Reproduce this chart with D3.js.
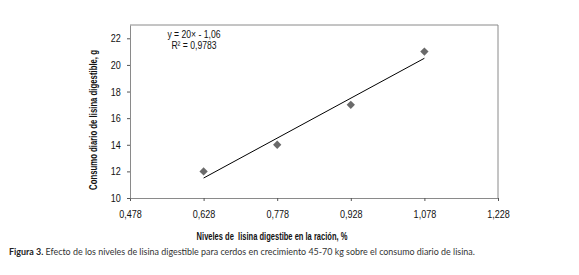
<!DOCTYPE html>
<html>
<head>
  <meta charset="utf-8">
  <script src="https://cdn.jsdelivr.net/npm/d3@7"></script>
  <style>
    body { margin: 0; background: #fff; }
    text { font-family: "Liberation Sans", Arial, sans-serif; fill: #111; }
    text.caption { font-family: Lato, "Open Sans", sans-serif; fill: #333; }
  </style>
</head>
<body>
  <svg id="chart" width="579" height="275"></svg>
  <script>
    // data
    var lisina = [0.628, 0.778, 0.928, 1.078];
    var consumo = [12, 14, 17, 21];
    var xTicks = [0.478, 0.628, 0.778, 0.928, 1.078, 1.228];
    var yTicks = [10, 12, 14, 16, 18, 20, 22];
    var slope = 20, intercept = -1.06;

    var svg = d3.select("#chart"),
      margin = { left: 130, right: 81, top: 25, bottom: 77 },
      width = +svg.attr("width"),
      height = +svg.attr("height");

    var x = d3.scaleLinear().domain([0.478, 1.228]).range([margin.left, width - margin.right]);
    var y = d3.scaleLinear().domain([10, 23]).range([height - margin.bottom, margin.top]);
    var fmt = d => d3.format(".3f")(d).replace(".", ",");

    // squeeze text horizontally to look like Arial Narrow
    function narrow(sel, factor) {
      sel.each(function () {
        var w = this.getComputedTextLength();
        d3.select(this).attr("textLength", w * factor).attr("lengthAdjust", "spacingAndGlyphs");
      });
    }

    // frame: top and right lines
    svg.append("path")
      .attr("d", "M" + x.range()[0] + "," + y(23) + "H" + x.range()[1] + "V" + y(10))
      .attr("fill", "none").attr("stroke", "#8a8a8a").attr("stroke-width", 1);

    var xAxis = svg.append("g")
      .attr("transform", "translate(0," + y(10) + ")")
      .call(d3.axisBottom(x).tickValues(xTicks).tickFormat(fmt).tickSize(3).tickSizeOuter(0));
    xAxis.selectAll("text").attr("font-size", 11).attr("dy", "1.3em").attr("fill", "#111");

    var yAxis = svg.append("g")
      .attr("transform", "translate(" + x.range()[0] + ",0)")
      .call(d3.axisLeft(y).tickValues(yTicks).tickSize(3).tickSizeOuter(0));
    yAxis.selectAll("text").attr("font-size", 11).attr("dx", "-0.3em").attr("fill", "#111");

    svg.selectAll(".domain").attr("stroke", "#8a8a8a");
    svg.selectAll(".tick line").attr("stroke", "#555");
    svg.selectAll("g").attr("font-family", null);
    narrow(svg.selectAll(".tick text"), 0.82);

    // trend line
    svg.append("line")
      .attr("x1", x(lisina[0])).attr("y1", y(slope * lisina[0] + intercept))
      .attr("x2", x(lisina[3])).attr("y2", y(slope * lisina[3] + intercept))
      .attr("stroke", "#000").attr("stroke-width", 1);

    // points
    svg.selectAll(".pt")
      .data(lisina)
      .enter()
      .append("path")
      .attr("class", "pt")
      .attr("d", d3.symbol(d3.symbolDiamond2, 44))
      .attr("transform", (d, i) => "translate(" + x(d) + "," + y(consumo[i]) + ")")
      .attr("fill", "#6a6a6a");

    // equation
    var eq = svg.append("g").attr("font-size", 10.5).attr("text-anchor", "middle");
    eq.append("text").attr("x", 194).attr("y", 38).text("y = 20× - 1,06");
    eq.append("text").attr("x", 194).attr("y", 49).text("R² = 0,9783");
    narrow(eq.selectAll("text"), 0.82);

    // axis titles (scaled horizontally instead of textLength)
    var yTitle = svg.append("text")
      .attr("text-anchor", "middle").attr("font-size", 11).attr("font-weight", "bold")
      .text("Consumo diario de lisina digestible, g");
    var ky = 140 / yTitle.node().getComputedTextLength();
    yTitle.attr("transform", "translate(97,120) rotate(-90) scale(" + ky + ",1)");

    var xTitle = svg.append("text")
      .attr("text-anchor", "middle")
      .attr("font-size", 11).attr("font-weight", "bold")
      .style("white-space", "pre")
      .text("Niveles de  lisina digestibe en la ración, %");
    var kx = 151 / xTitle.node().getComputedTextLength();
    xTitle.attr("transform", "translate(272,240) scale(" + kx + ",1)");

    // caption
    var cap = svg.append("text").attr("class", "caption").attr("x", 9).attr("y", 255).attr("font-size", 10);
    cap.append("tspan").attr("font-weight", "bold").attr("fill", "#222").text("Figura 3.");
    cap.append("tspan").text(" Efecto de los niveles de lisina digestible para cerdos en crecimiento 45-70 kg sobre el consumo diario de lisina.");
    var w = cap.node().getComputedTextLength();
    cap.attr("font-size", 10 * 466 / w);
  </script>
</body>
</html>
